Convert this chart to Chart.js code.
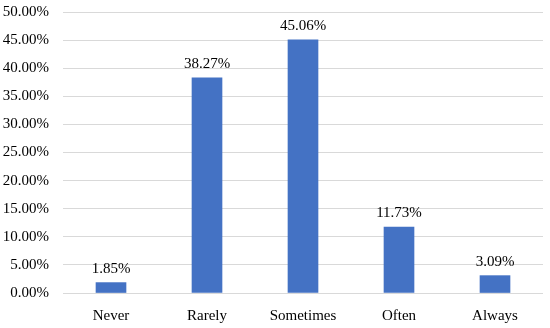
<!DOCTYPE html>
<html>
<head>
<meta charset="utf-8">
<script src="https://cdn.jsdelivr.net/npm/chart.js@4"></script>
<style>
  html, body { margin: 0; padding: 0; background: #fff; }
  #wrap { width: 550px; height: 328px; }
</style>
</head>
<body>
<div id="wrap"><canvas id="myChart" width="550" height="328"></canvas></div>
<script>
const categories = ['Never', 'Rarely', 'Sometimes', 'Often', 'Always'];
const values = [1.85, 38.27, 45.06, 11.73, 3.09];

const fontFamily = "'Liberation Serif', 'DejaVu Serif', serif";

// draw the value above each bar
const valueLabels = {
  id: 'valueLabels',
  afterDatasetsDraw(chart) {
    const c = chart.ctx;
    const meta = chart.getDatasetMeta(0);
    c.save();
    c.font = '15px ' + fontFamily;
    c.fillStyle = '#000';
    c.textAlign = 'center';
    c.textBaseline = 'alphabetic';
    meta.data.forEach((bar, i) => {
      c.fillText(values[i].toFixed(2) + '%', bar.x, bar.y - 10);
    });
    c.restore();
  }
};

const ctx = document.getElementById('myChart').getContext('2d');

const data = {
  labels: categories,
  datasets: [{
    data: values,
    backgroundColor: '#4472C4',
    barThickness: 30
  }]
};

const config = {
  type: 'bar',
  data,
  options: {
    responsive: false,
    animation: false,
    layout: { padding: { top: 12, right: 7, left: 0, bottom: 0 } },
    plugins: {
      legend: { display: false },
      tooltip: { enabled: false }
    },
    scales: {
      x: {
        grid: { display: false },
        border: { display: false },
        ticks: { color: '#000', font: { family: fontFamily, size: 15 }, padding: 6 },
        afterFit: s => { s.height = 35; s.paddingLeft = 0; s.paddingRight = 0; }
      },
      y: {
        min: 0,
        max: 50,
        ticks: {
          stepSize: 5,
          color: '#000',
          font: { family: fontFamily, size: 15 },
          padding: 14,
          callback: v => v.toFixed(2) + '%'
        },
        grid: { color: '#d9d9d9', drawTicks: false },
        border: { display: false },
        afterFit: s => { s.width = 63; s.paddingTop = 0; s.paddingBottom = 0; }
      }
    }
  },
  plugins: [valueLabels]
};

let myChart = new Chart(ctx, config);
</script>
</body>
</html>
